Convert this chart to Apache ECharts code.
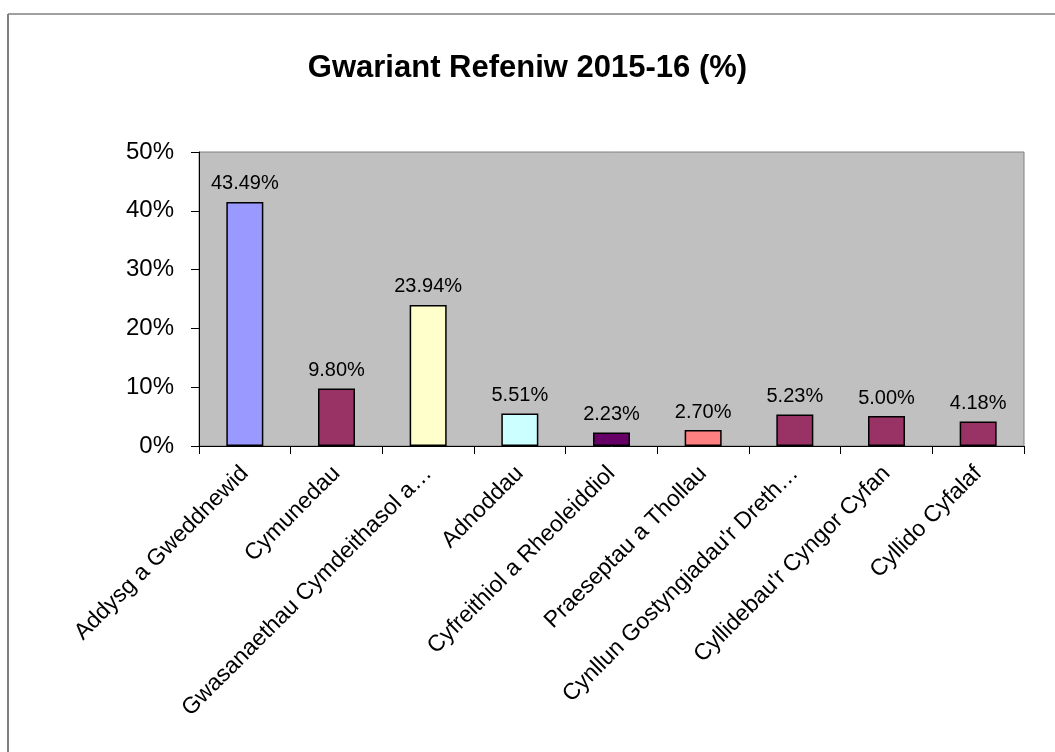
<!DOCTYPE html>
<html>
<head>
<meta charset="utf-8">
<script src="https://cdn.jsdelivr.net/npm/echarts@6/dist/echarts.min.js"></script>
<style>
html,body{margin:0;padding:0;background:#fff;}
#chart{width:1055px;height:752px;}
</style>
</head>
<body>
<div id="chart"></div>
<script>
const categories = ["Addysg a Gweddnewid", "Cymunedau", "Gwasanaethau Cymdeithasol a…", "Adnoddau", "Cyfreithiol a Rheoleiddiol", "Praeseptau a Thollau", "Cynllun Gostyngiadau'r Dreth…", "Cyllidebau'r Cyngor Cyfan", "Cyllido Cyfalaf"];
const values = [41.5, 9.8, 24.0, 5.51, 2.3, 2.7, 5.35, 5.1, 4.18];
const valueLabels = ["43.49%", "9.80%", "23.94%", "5.51%", "2.23%", "2.70%", "5.23%", "5.00%", "4.18%"];
const barColors = ["#9999FF", "#993366", "#FFFFCC", "#CCFFFF", "#660066", "#FF8080", "#993366", "#993366", "#993366"];
const yTicks = [0, 10, 20, 30, 40, 50];

const chart = echarts.init(document.getElementById('chart'));
chart.setOption({
  animation: false,
  backgroundColor: '#ffffff',
  title: {
    text: 'Gwariant Refeniw 2015-16 (%)',
    left: 'center',
    top: 48,
    textStyle: {fontFamily: 'Liberation Sans, Arial, sans-serif', fontSize: 31, fontWeight: 'bold', color: '#000'}
  },
  graphic: [
    {type: 'line', shape: {x1: 8, y1: 14, x2: 1055, y2: 14}, style: {stroke: '#a0a0a0', lineWidth: 2}},
    {type: 'line', shape: {x1: 8, y1: 14, x2: 8, y2: 752}, style: {stroke: '#808080', lineWidth: 2}}
  ],
  grid: {
    left: 199, right: 31, top: 152, bottom: 306,
    show: true, backgroundColor: '#C0C0C0', borderColor: '#808080', borderWidth: 1
  },
  xAxis: {
    type: 'category',
    data: categories,
    axisLine: {lineStyle: {color: '#000', width: 1}},
    axisTick: {show: true, length: 8, alignWithLabel: false, lineStyle: {color: '#000'}},
    axisLabel: {
      interval: 0, rotate: 45, margin: 24,
      fontFamily: 'Liberation Sans, Arial, sans-serif', fontSize: 23, color: '#000'
    }
  },
  yAxis: {
    type: 'value',
    min: 0, max: 50, interval: 10,
    axisLine: {show: true, lineStyle: {color: '#000', width: 1}},
    axisTick: {show: true, length: 8, lineStyle: {color: '#000'}},
    splitLine: {show: false},
    axisLabel: {
      margin: 25,
      fontFamily: 'Liberation Sans, Arial, sans-serif', fontSize: 24, color: '#000',
      formatter: v => yTicks.includes(v) ? v + '%' : ''
    }
  },
  series: [{
    type: 'bar',
    barWidth: 37,
    data: values.map((v, i) => ({value: v, itemStyle: {color: barColors[i]}})),
    itemStyle: {borderColor: '#000', borderWidth: 1.5},
    label: {
      show: true, position: 'top', distance: 8,
      fontFamily: 'Liberation Sans, Arial, sans-serif', fontSize: 20, color: '#000',
      formatter: p => valueLabels[p.dataIndex]
    }
  }]
});
</script>
</body>
</html>
